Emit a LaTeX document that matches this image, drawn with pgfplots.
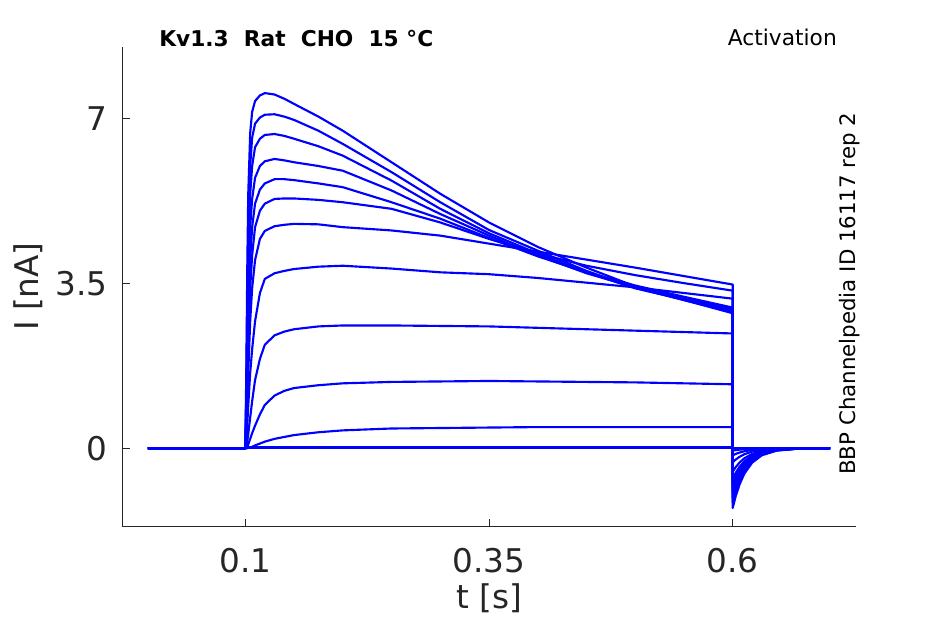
\documentclass[border=0pt]{standalone}
\usepackage{fontspec}
\setmainfont{DejaVu Sans}
\usepackage{pgfplots}
\usepackage{pgfplotstable}
\pgfplotsset{compat=1.18}
\definecolor{axgray}{HTML}{262626}
\definecolor{trace}{HTML}{0000FF}

\pgfplotstableread{
t     b     c     d     e     f     g     h     i     j     k     l
0     0     0     0     0     0     0     0     0     0     0     0
0.1   0     0     0     0     0     0     0     0     0     0     0
0.101 0     0.02  0.05  0.15  0.3   0.45  0.6   0.8   1.0   1.2   1.6
0.102 0     0.04  0.15  0.5   0.9   1.2   1.6   2.0   2.5   3.0   3.8
0.103 0.01  0.08  0.3   0.9   1.6   2.1   2.7   3.3   4.0   4.6   5.4
0.105 0.02  0.2   0.65  1.6   2.7   3.4   4.0   4.7   5.4   6.0   6.7
0.107 0.03  0.32  1.0   2.1   3.4   4.1   4.7   5.3   6.0   6.6   7.15
0.11  0.06  0.48  1.45  2.7   4.0   4.7   5.2   5.75  6.4   6.9   7.38
0.115 0.10  0.72  1.9   3.3   4.45  5.05  5.5   6.0   6.58  7.03  7.5
0.12  0.14  0.92  2.2   3.6   4.62  5.2   5.63  6.1   6.66  7.09  7.55
0.13  0.20  1.12  2.4   3.72  4.72  5.3   5.72  6.15  6.68  7.1   7.52
0.14  0.24  1.22  2.48  3.77  4.75  5.31  5.72  6.12  6.64  7.05  7.43
0.15  0.28  1.28  2.53  3.81  4.77  5.31  5.70  6.08  6.58  6.98  7.32
0.175 0.34  1.34  2.59  3.86  4.76  5.28  5.63  6.0   6.42  6.75  7.05
0.2   0.38  1.38  2.61  3.88  4.70  5.23  5.55  5.90  6.22  6.47  6.75
0.25  0.42  1.41  2.61  3.82  4.63  5.09  5.23  5.48  5.69  5.87  6.08
0.3   0.43  1.42  2.60  3.74  4.52  4.80  4.88  4.98  5.09  5.23  5.41
0.35  0.44  1.43  2.59  3.70  4.35  4.45  4.47  4.52  4.57  4.64  4.80
0.4   0.45  1.42  2.56  3.62  4.18  4.14  4.08  4.10  4.14  4.20  4.28
0.45  0.45  1.41  2.53  3.52  4.01  3.88  3.74  3.72  3.74  3.77  3.84
0.5   0.45  1.40  2.50  3.42  3.84  3.68  3.46  3.42  3.40  3.41  3.44
0.55  0.45  1.38  2.47  3.30  3.66  3.51  3.22  3.18  3.16  3.15  3.15
0.6   0.45  1.36  2.44  3.18  3.48  3.35  2.99  2.96  2.93  2.90  2.87
0.6   -0.05 -0.15 -0.3  -0.5  -0.65 -0.75 -0.85 -0.95 -1.05 -1.15 -1.27
0.603 -0.040 -0.121 -0.242 -0.404 -0.525 -0.605 -0.686 -0.767 -0.847 -0.928 -1.025
0.607 -0.030 -0.091 -0.182 -0.304 -0.395 -0.455 -0.516 -0.577 -0.637 -0.698 -0.771
0.612 -0.021 -0.064 -0.127 -0.212 -0.276 -0.318 -0.360 -0.403 -0.445 -0.488 -0.538
0.62  -0.012 -0.036 -0.072 -0.120 -0.156 -0.180 -0.204 -0.228 -0.252 -0.276 -0.305
0.63  -0.006 -0.018 -0.035 -0.059 -0.076 -0.088 -0.099 -0.111 -0.123 -0.135 -0.149
0.645 -0.002 -0.006 -0.012 -0.020 -0.026 -0.030 -0.034 -0.038 -0.042 -0.046 -0.051
0.665 0     -0.002 -0.003 -0.005 -0.007 -0.008 -0.009 -0.010 -0.011 -0.012 -0.013
0.7   0     0     0     0     0     0     0     0     0     0     0
}\traces

\begin{document}
\begin{tikzpicture}
\path[use as bounding box] (0,0) rectangle (708.75pt,468pt);
\begin{axis}[
  at={(91.5pt,73pt)}, anchor=south west,
  scale only axis, width=550.5pt, height=360pt,
  xmin=-0.0265, xmax=0.7265, ymin=-1.667, ymax=8.537,
  axis x line*=bottom, axis y line*=left,
  axis line style={axgray, line width=0.75pt, -},
  xtick={0.1,0.35,0.6}, xticklabels={0.1,0.35,0.6},
  ytick={0,3.5,7}, yticklabels={0,3.5,7},
  tick align=inside, major tick length=6pt,
  major tick style={axgray, line width=0.75pt},
  every tick label/.append style={font=\fontsize{24.5}{29}\selectfont, text=axgray, inner sep=0pt},
  xticklabel style={anchor=base, yshift=-34.2pt},
  yticklabel style={anchor=east, xshift=-10.7pt},
  xlabel={t [s]}, ylabel={I [nA]},
  every axis label/.append style={font=\fontsize{24.5}{29}\selectfont, text=axgray, inner sep=0pt},
  xlabel style={at={(axis description cs:0.5,-0.1708)}, anchor=base},
  ylabel style={at={(axis description cs:-0.1131,0.5)}, anchor=base},
  every axis plot post/.append style={trace, solid, line width=1.6pt, mark=none, line join=round},
]
\addplot coordinates {(0,0) (0.7,0)};
\addplot coordinates {(0,0) (0.1,0) (0.1005,0.025) (0.6,0.025) (0.6005,0) (0.7,0)};
\addplot table[x=t,y=b] {\traces};
\addplot table[x=t,y=c] {\traces};
\addplot table[x=t,y=d] {\traces};
\addplot table[x=t,y=e] {\traces};
\addplot table[x=t,y=f] {\traces};
\addplot table[x=t,y=g] {\traces};
\addplot table[x=t,y=h] {\traces};
\addplot table[x=t,y=i] {\traces};
\addplot table[x=t,y=j] {\traces};
\addplot table[x=t,y=k] {\traces};
\addplot table[x=t,y=l] {\traces};
\end{axis}
\node[anchor=base west, inner sep=0pt, font=\fontsize{16.3}{19}\selectfont\bfseries] at (119.25pt,433.4pt) {Kv1.3\ \ Rat\ \ CHO\ \ 15 °C};
\node[anchor=base east, inner sep=0pt, font=\fontsize{16.3}{19}\selectfont] at (627.75pt,433.5pt) {Activation};
\node[anchor=base west, inner sep=0pt, rotate=90, font=\fontsize{16}{19}\selectfont] at (641.6pt,111.75pt) {BBP Channelpedia ID 16117 rep 2};
\end{tikzpicture}
\end{document}
